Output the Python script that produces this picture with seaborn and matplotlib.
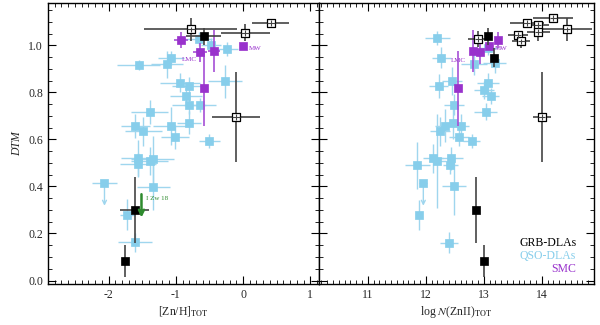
import numpy as np
import pandas as pd
import matplotlib
matplotlib.use("Agg")
import matplotlib.pyplot as plt
import seaborn as sns
from matplotlib.ticker import MultipleLocator

# ---------------- data ----------------
# Left panel: [Zn/H]_TOT
qso_l_x = [-1.55, -1.13, -1.075, -0.24, -0.48, -0.94, -0.80, -0.27, -0.85, -0.80, -0.64, -1.39, -1.60,
           -1.48, -1.07, -0.80, -1.015, -0.50, -1.557, -1.557, -1.39, -1.34, -1.333, -1.72, -1.61, -0.66]
qso_l_y = [0.916, 0.919, 0.947, 0.984, 1.000, 0.841, 0.829, 0.848, 0.785, 0.747, 0.747, 0.716, 0.658,
           0.634, 0.658, 0.672, 0.611, 0.595, 0.519, 0.494, 0.508, 0.515, 0.399, 0.280, 0.163, 1.026]
qso_l_xe = [0.32, 0.24, 0.19, 0.16, 0.15, 0.30, 0.25, 0.25, 0.24, 0.25, 0.24, 0.27, 0.22,
            0.27, 0.27, 0.18, 0.21, 0.16, 0.26, 0.27, 0.27, 0.32, 0.24, 0.11, 0.25, 0.20]
qso_l_ye = [0.02, 0.056, 0.03, 0.03, 0.03, 0.04, 0.035, 0.07, 0.035, 0.04, 0.03, 0.05, 0.05,
            0.06, 0.08, 0.05, 0.05, 0.03, 0.08, 0.05, 0.06, 0.10, 0.10, 0.065, 0.04, 0.03]
qso_l_lim_x = [-2.06]
qso_l_lim_y = [0.413]
qso_l_lim_xe = [0.19]
qso_l_lim_to = [0.318]

grb_l_x = [-0.587, -1.612, -1.75]
grb_l_y = [1.038, 0.299, 0.082]
grb_l_xe = [0.26, 0.21, 0.0]
grb_l_ye = [0.035, 0.14, 0.067]

grbo_l_x = [-0.776, 0.034, 0.41, -0.104]
grbo_l_y = [1.068, 1.054, 1.096, 0.695]
grbo_l_xe = [0.69, 0.36, 0.28, 0.36]
grbo_l_ye = [0.05, 0.035, 0.01, 0.19]

smc_l_x = [-0.925, -0.637, -0.437, -0.577, 0.004]
smc_l_y = [1.022, 0.970, 0.977, 0.817, 0.998]
smc_l_xe = [0.10, 0.10, 0.09, 0.05, 0.0]
smc_l_ye = [0.035, 0.04, 0.09, 0.16, 0.0]

izw_x, izw_y, izw_to = -1.51, 0.367, 0.268

# Right panel: log N(ZnII)_TOT
qso_r_x = [12.20, 12.27, 12.834, 13.19, 13.076, 12.453, 12.223, 13.076, 13.007, 13.118, 12.488, 13.03,
           12.327, 12.477, 12.60, 12.24, 12.569, 12.789, 12.125, 12.20, 12.443, 12.425, 11.855, 12.488,
           11.883, 12.401]
qso_r_y = [1.032, 0.947, 0.919, 0.923, 0.989, 0.848, 0.827, 0.841, 0.810, 0.785, 0.747, 0.718,
           0.658, 0.672, 0.658, 0.634, 0.611, 0.595, 0.519, 0.508, 0.519, 0.491, 0.491, 0.400,
           0.278, 0.161]
qso_r_xe = [0.21, 0.17, 0.22, 0.20, 0.15, 0.17, 0.16, 0.19, 0.17, 0.15, 0.17, 0.19,
            0.17, 0.16, 0.14, 0.17, 0.17, 0.14, 0.17, 0.15, 0.20, 0.13, 0.22, 0.20,
            0.0, 0.16]
qso_r_ye = [0.03, 0.045, 0.045, 0.04, 0.03, 0.06, 0.05, 0.04, 0.04, 0.035, 0.045, 0.035,
            0.07, 0.07, 0.05, 0.06, 0.04, 0.03, 0.06, 0.20, 0.05, 0.04, 0.10, 0.12,
            0.065, 0.045]
qso_r_lim_x = [11.958]
qso_r_lim_y = [0.416]
qso_r_lim_xe = [0.07]
qso_r_lim_to = [0.318]

grb_r_x = [13.076, 13.18, 12.858, 13.01]
grb_r_y = [1.038, 0.948, 0.299, 0.082]
grb_r_xe = [0.0, 0.0, 0.0, 0.0]
grb_r_ye = [0.035, 0.04, 0.14, 0.067]

grbo_r_x = [12.903, 13.585, 13.642, 13.74, 13.93, 13.94, 14.196, 14.43, 14.0]
grbo_r_y = [1.026, 1.043, 1.017, 1.096, 1.088, 1.057, 1.117, 1.068, 0.695]
grbo_r_xe = [0.17, 0.17, 0.16, 0.29, 0.20, 0.20, 0.35, 0.43, 0.16]
grbo_r_ye = [0.035, 0.02, 0.03, 0.01, 0.01, 0.04, 0.01, 0.05, 0.19]

smc_r_x = [12.806, 12.927, 13.249, 12.557, 13.094]
smc_r_y = [0.977, 0.970, 1.022, 0.817, 0.998]
smc_r_xe = [0.0, 0.0, 0.0, 0.0, 0.0]
smc_r_ye = [0.09, 0.05, 0.035, 0.16, 0.0]

legend_labels = ["GRB-DLAs", "QSO-DLAs", "SMC"]

# ---------------- style ----------------
sns.set_style("ticks")
plt.rcParams["font.family"] = ["Liberation Serif", "DejaVu Serif"]
plt.rcParams["mathtext.fontset"] = "stix"
plt.rcParams["axes.unicode_minus"] = False
plt.rcParams["font.size"] = 8.5

C_QSO = "#87CEEB"
C_QSO_ERR = "#9fd6ee"
C_SMC = "#9932CC"
C_SMC_ERR = "#a64fd6"
C_GRB_ERR = "#444444"

fig = plt.figure(figsize=(6, 3.25), dpi=100)
axL = fig.add_axes([0.08, 0.126, 0.4517, 0.8646])
axR = fig.add_axes([0.5317, 0.126, 0.4583, 0.8646])


def draw(ax, qx, qy, qxe, qye, lx, ly, lxe, lto, gx, gy, gxe, gye, ox, oy, oxe, oye, sx, sy, sxe, sye):
    ms = 5.2
    # QSO
    ax.errorbar(qx, qy, xerr=qxe, yerr=qye, fmt="none", ecolor=C_QSO_ERR, elinewidth=1.0, zorder=1)
    ax.errorbar(lx, ly, xerr=lxe, fmt="none", ecolor=C_QSO_ERR, elinewidth=1.0, zorder=1)
    for x0, y0, yt in zip(lx, ly, lto):
        ax.annotate("", xy=(x0, yt), xytext=(x0, y0),
                    arrowprops=dict(arrowstyle="->", color=C_QSO_ERR, lw=1.0, shrinkA=0, shrinkB=0,
                                    mutation_scale=7), zorder=1)
    dq = pd.DataFrame({"x": list(qx) + list(lx), "y": list(qy) + list(ly)})
    sns.scatterplot(data=dq, x="x", y="y", ax=ax, marker="s", s=ms ** 2, color=C_QSO,
                    edgecolor=C_QSO, linewidth=0.5, zorder=2, legend=False)
    # SMC
    ax.errorbar(sx, sy, xerr=sxe, yerr=sye, fmt="none", ecolor=C_SMC_ERR, elinewidth=1.2, zorder=3)
    ds = pd.DataFrame({"x": sx, "y": sy})
    sns.scatterplot(data=ds, x="x", y="y", ax=ax, marker="s", s=ms ** 2, color=C_SMC,
                    edgecolor=C_SMC, linewidth=0.5, zorder=4, legend=False)
    # GRB open
    ax.errorbar(ox, oy, xerr=oxe, yerr=oye, fmt="none", ecolor=C_GRB_ERR, elinewidth=1.2, zorder=5)
    do = pd.DataFrame({"x": ox, "y": oy})
    sns.scatterplot(data=do, x="x", y="y", ax=ax, marker="s", s=(ms + 0.6) ** 2, facecolor="white",
                    edgecolor="black", linewidth=0.9, zorder=6, legend=False)
    ax.errorbar(ox, oy, xerr=[[0.06] * len(ox), [0.06] * len(ox)], fmt="none", ecolor=C_GRB_ERR,
                elinewidth=0.8, zorder=6.5)
    ax.errorbar(ox, oy, yerr=[[0.012] * len(oy), [0.012] * len(oy)], fmt="none", ecolor=C_GRB_ERR,
                elinewidth=0.8, zorder=6.5)
    # GRB filled
    ax.errorbar(gx, gy, xerr=gxe, yerr=gye, fmt="none", ecolor=C_GRB_ERR, elinewidth=1.2, zorder=7)
    dg = pd.DataFrame({"x": gx, "y": gy})
    sns.scatterplot(data=dg, x="x", y="y", ax=ax, marker="s", s=(ms + 0.4) ** 2, color="black",
                    edgecolor="black", linewidth=0.5, zorder=8, legend=False)


draw(axL, qso_l_x, qso_l_y, qso_l_xe, qso_l_ye, qso_l_lim_x, qso_l_lim_y, qso_l_lim_xe, qso_l_lim_to,
     grb_l_x, grb_l_y, grb_l_xe, grb_l_ye, grbo_l_x, grbo_l_y, grbo_l_xe, grbo_l_ye,
     smc_l_x, smc_l_y, smc_l_xe, smc_l_ye)
draw(axR, qso_r_x, qso_r_y, qso_r_xe, qso_r_ye, qso_r_lim_x, qso_r_lim_y, qso_r_lim_xe, qso_r_lim_to,
     grb_r_x, grb_r_y, grb_r_xe, grb_r_ye, grbo_r_x, grbo_r_y, grbo_r_xe, grbo_r_ye,
     smc_r_x, smc_r_y, smc_r_xe, smc_r_ye)

# I Zw 18 arrow and labels
axL.annotate("", xy=(izw_x, izw_to), xytext=(izw_x, izw_y),
             arrowprops=dict(arrowstyle="->", color="#2e8b2e", lw=1.8, shrinkA=0, shrinkB=0,
                             mutation_scale=9), zorder=9)
axL.text(izw_x + 0.07, izw_y - 0.02, "I Zw 18", color="#2e8b2e", fontsize=5, va="center", ha="left")
axL.text(smc_l_x[4] + 0.08, smc_l_y[4] - 0.01, "MW", color=C_SMC, fontsize=5, va="center", ha="left")
axL.text(smc_l_x[1] - 0.05, smc_l_y[1] - 0.03, "LMC", color=C_SMC, fontsize=5, va="center", ha="right")
axR.text(smc_r_x[4] + 0.1, smc_r_y[4] - 0.01, "MW", color=C_SMC, fontsize=5, va="center", ha="left")
axR.text(smc_r_x[0] - 0.12, smc_r_y[0] - 0.04, "LMC", color=C_SMC, fontsize=5, va="center", ha="right")

# axes formatting
for ax in (axL, axR):
    ax.set_ylim(-0.015, 1.18)
    ax.yaxis.set_major_locator(MultipleLocator(0.2))
    ax.yaxis.set_minor_locator(MultipleLocator(0.05))
    ax.xaxis.set_major_locator(MultipleLocator(1))
    ax.xaxis.set_minor_locator(MultipleLocator(0.1))
    ax.tick_params(which="both", direction="in", top=True, right=True, labelsize=8.5, color="black")
    ax.tick_params(which="major", length=6, width=0.8)
    ax.tick_params(which="minor", length=3, width=0.6)
    for sp in ax.spines.values():
        sp.set_linewidth(1.0)
        sp.set_color("black")
    ax.set_ylabel("")

axL.set_xlim(-2.9, 1.13)
axR.set_xlim(10.16, 14.9)
axR.tick_params(labelleft=False)
axL.yaxis.set_major_formatter(matplotlib.ticker.FormatStrFormatter("%.1f"))

axL.set_xlabel(r"[Zn/H]$_{\rm TOT}$", fontsize=8.5, labelpad=2)
axR.set_xlabel(r"log $N$(ZnII)$_{\rm TOT}$", fontsize=8.5, labelpad=2)
axL.set_ylabel("DTM", fontsize=8.5, style="italic", labelpad=4)

legend_colors = ["black", C_QSO, C_SMC]
for i, (lab, col) in enumerate(zip(legend_labels, legend_colors)):
    axR.text(0.935, 0.145 - i * 0.045, lab, color=col, fontsize=8.5, ha="right", va="center",
             transform=axR.transAxes)

fig.savefig("out.png", dpi=100)
